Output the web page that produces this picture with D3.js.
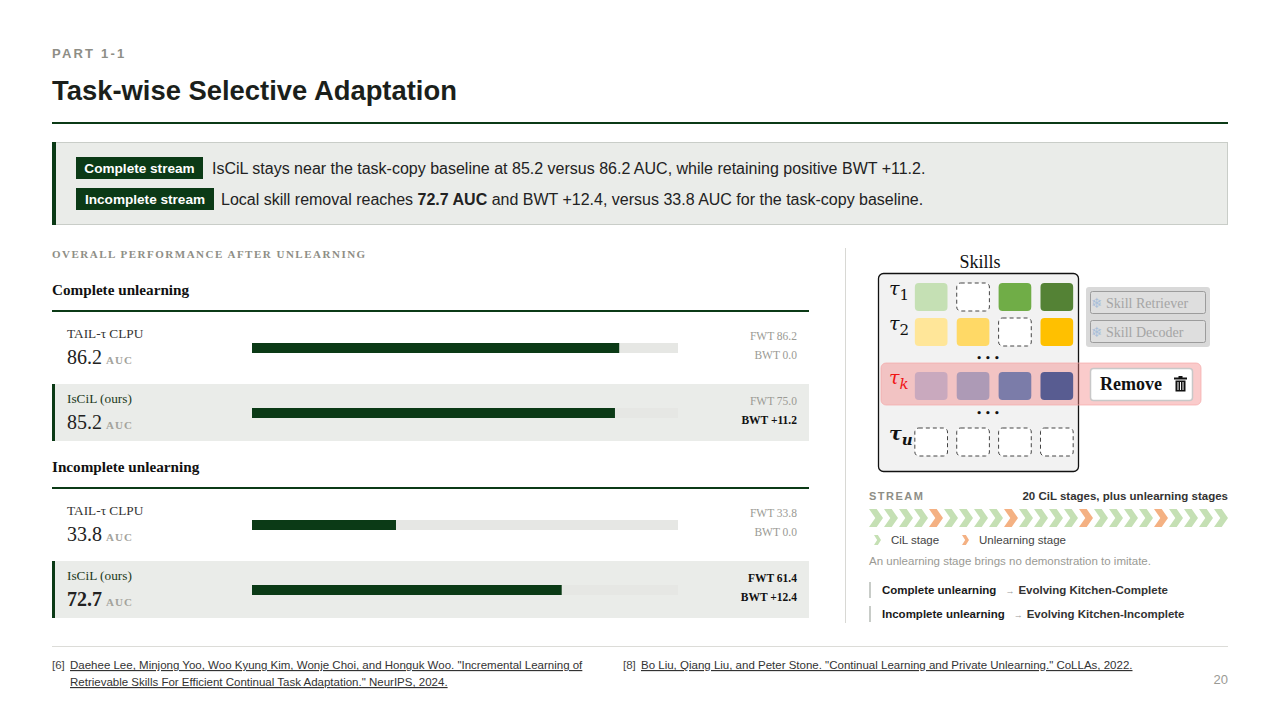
<!DOCTYPE html>
<html>
<head>
<meta charset="utf-8">
<script src="https://cdn.jsdelivr.net/npm/d3@7"></script>
<style>
  html, body { margin: 0; padding: 0; background: #fff; }
  svg { display: block; }
  .sans { font-family: "Liberation Sans", Arial, sans-serif; }
  .serif { font-family: "Liberation Serif", "Times New Roman", serif; }
</style>
</head>
<body>
<svg id="slide" width="1280" height="720"></svg>
<script>
// ---- data ----
var groups = ["Complete unlearning", "Incomplete unlearning"]
var methods = ["TAIL-τ CLPU", "IsCiL (ours)"]
var aucValues = [[86.2, 85.2], [33.8, 72.7]]
var fwtValues = [[86.2, 75.0], [33.8, 61.4]]
var bwtValues = [[0.0, 11.2], [0.0, 12.4]]

// stream: 0 = CiL stage, 1 = unlearning stage
var streamStages = [0,0,0,0,1, 0,0,0,0,1, 0,0,0,0,1, 0,0,0,0,1, 0,0,0,0]

var skillRows = ["1", "2", "k", "u"]
var skillColors = [
    ["#c5e0b4", null, "#70ad47", "#548235"],
    ["#ffe699", "#ffd966", null, "#ffc000"],
    ["#c9a9be", "#ad9ab6", "#7b7ca9", "#585c91"],
    [null, null, null, null]
]

var refs = [
    ["[6]", "Daehee Lee, Minjong Yoo, Woo Kyung Kim, Wonje Choi, and Honguk Woo. \"Incremental Learning of",
        "Retrievable Skills For Efficient Continual Task Adaptation.\" NeurIPS, 2024."],
    ["[8]", "Bo Liu, Qiang Liu, and Peter Stone. \"Continual Learning and Private Unlearning.\" CoLLAs, 2022."]
]

var GREEN = "#0b3a16"
var svg = d3.select("#slide")

// ---- header ----
svg.append("text").attr("class", "sans").attr("x", 52).attr("y", 58)
    .attr("font-size", 13).attr("font-weight", "bold").attr("letter-spacing", 2.2)
    .attr("fill", "#8e8e86").text("PART 1-1")
svg.append("text").attr("class", "sans").attr("x", 52).attr("y", 100)
    .attr("font-size", 27.4).attr("font-weight", "bold").attr("fill", "#1b1f1b")
    .text("Task-wise Selective Adaptation")
svg.append("rect").attr("x", 52).attr("y", 122).attr("width", 1176).attr("height", 2).attr("fill", GREEN)

// ---- callout ----
svg.append("rect").attr("x", 52.5).attr("y", 142.5).attr("width", 1175).attr("height", 82)
    .attr("fill", "#eaece9").attr("stroke", "#c9cdc8")
svg.append("rect").attr("x", 52).attr("y", 142).attr("width", 4).attr("height", 83).attr("fill", GREEN)

var callout = [
    { tag: "Complete stream", y: 157, w: 127, tx: 212, parts: [["IsCiL stays near the task-copy baseline at 85.2 versus 86.2 AUC, while retaining positive BWT +11.2.", false]] },
    { tag: "Incomplete stream", y: 188, w: 138, tx: 221, parts: [["Local skill removal reaches ", false], ["72.7 AUC", true], [" and BWT +12.4, versus 33.8 AUC for the task-copy baseline.", false]] }
]
callout.forEach(function (c) {
    svg.append("rect").attr("x", 76).attr("y", c.y).attr("width", c.w).attr("height", 22).attr("fill", GREEN)
    svg.append("text").attr("class", "sans").attr("x", 76 + c.w / 2).attr("y", c.y + 15.5)
        .attr("text-anchor", "middle").attr("font-size", 13.6).attr("font-weight", "bold")
        .attr("fill", "#fff").text(c.tag)
    var t = svg.append("text").attr("class", "sans").attr("x", c.tx).attr("y", c.y + 16.5)
        .attr("font-size", 16).attr("fill", "#222")
    c.parts.forEach(function (p) {
        t.append("tspan").attr("font-weight", p[1] ? "bold" : "normal").text(p[0])
    })
})

// ---- left panel ----
svg.append("text").attr("class", "serif").attr("x", 52).attr("y", 258)
    .attr("font-size", 11).attr("font-weight", "bold").attr("letter-spacing", 1.5)
    .attr("fill", "#8e8e86").text("OVERALL PERFORMANCE AFTER UNLEARNING")

var x = d3.scaleLinear().domain([0, 100]).range([252, 678])
var fmtBwt = function (v) { return (v > 0 ? "+" : "") + v.toFixed(1) }

groups.forEach(function (g, gi) {
    var top = 311 + gi * 177
    svg.append("text").attr("class", "serif").attr("x", 52).attr("y", top - 16)
        .attr("font-size", 15.2).attr("font-weight", "bold").attr("fill", "#111").text(g)
    svg.append("rect").attr("x", 52).attr("y", top - 1).attr("width", 757).attr("height", 2).attr("fill", GREEN)

    methods.forEach(function (m, mi) {
        var ry = top + 8 + mi * 65
        var ours = mi === 1
        var auc = aucValues[gi][mi], fwt = fwtValues[gi][mi], bwt = bwtValues[gi][mi]
        var boldAuc = ours && auc === d3.max(aucValues[gi])
        var boldFwt = ours && fwt === d3.max(fwtValues[gi])
        var boldBwt = ours && bwt === d3.max(bwtValues[gi])
        if (ours) {
            svg.append("rect").attr("x", 52).attr("y", ry).attr("width", 757).attr("height", 57).attr("fill", "#eaece9")
            svg.append("rect").attr("x", 52).attr("y", ry).attr("width", 3).attr("height", 57).attr("fill", GREEN)
        }
        svg.append("text").attr("class", "serif").attr("x", 67).attr("y", ry + 19)
            .attr("font-size", 13.3).attr("fill", ours ? "#1d3a22" : "#333").text(m)
        var vt = svg.append("text").attr("class", "serif").attr("x", 67).attr("y", ry + 45)
            .attr("fill", "#222")
        vt.append("tspan").attr("font-size", 20).attr("font-weight", boldAuc ? "bold" : "normal").text(auc.toFixed(1))
        vt.append("tspan").attr("dx", 4).attr("font-size", 11).attr("font-weight", "bold")
            .attr("letter-spacing", 1).attr("fill", "#a3a39c").text("AUC")

        svg.append("rect").attr("x", x(0)).attr("y", ry + 24).attr("width", x(100) - x(0)).attr("height", 10).attr("fill", "#e6e7e4")
        svg.append("rect").attr("x", x(0)).attr("y", ry + 24).attr("width", x(auc) - x(0)).attr("height", 10).attr("fill", GREEN)

        svg.append("text").attr("class", "serif").attr("x", 797).attr("y", ry + 21)
            .attr("text-anchor", "end").attr("font-size", 11.5)
            .attr("font-weight", boldFwt ? "bold" : "normal").attr("fill", boldFwt ? "#111" : "#9a9a94")
            .text("FWT " + fwt.toFixed(1))
        svg.append("text").attr("class", "serif").attr("x", 797).attr("y", ry + 40)
            .attr("text-anchor", "end").attr("font-size", 11.5)
            .attr("font-weight", boldBwt ? "bold" : "normal").attr("fill", boldBwt ? "#111" : "#9a9a94")
            .text("BWT " + fmtBwt(bwt))
    })
})

// divider
svg.append("rect").attr("x", 845).attr("y", 248).attr("width", 1).attr("height", 375).attr("fill", "#d8d8d4")

// ---- skills diagram ----
var dg = svg.append("g")
dg.append("text").attr("class", "serif").attr("x", 980).attr("y", 268).attr("text-anchor", "middle")
    .attr("font-size", 18).attr("fill", "#111").text("Skills")
dg.append("rect").attr("x", 878.5).attr("y", 273.5).attr("width", 200).attr("height", 198).attr("rx", 5)
    .attr("fill", "#f2f2f2").attr("stroke", "#111").attr("stroke-width", 1.3)

// side panel (retriever / decoder)
dg.append("rect").attr("x", 1086).attr("y", 287).attr("width", 124).attr("height", 60).attr("rx", 3).attr("fill", "#d9d9d9")
;["Skill Retriever", "Skill Decoder"].forEach(function (s, i) {
    var by = 291 + i * 29
    dg.append("rect").attr("x", 1090.5).attr("y", by + 0.5).attr("width", 115).attr("height", 22).attr("rx", 2)
        .attr("fill", "#dedede").attr("stroke", "#9c9c9c")
    dg.append("text").attr("x", 1091).attr("y", by + 17).attr("font-family", "DejaVu Sans")
        .attr("font-size", 14).attr("fill", "#a9bfd9").text("❄")
    dg.append("text").attr("class", "serif").attr("x", 1106).attr("y", by + 16.5)
        .attr("font-size", 14).attr("fill", "#a5a5a5").text(s)
})

// remove band over k row (drawn under the cells)
dg.append("rect").attr("x", 881).attr("y", 363).attr("width", 320).attr("height", 42).attr("rx", 5)
    .attr("fill", "rgba(242,130,130,0.42)").attr("stroke", "rgba(245,170,170,0.7)")

var colX = d3.scaleBand().domain(d3.range(4)).range([914, 1074]).paddingInner(0.22).paddingOuter(0.02)
var rowY = d3.scaleOrdinal().domain(skillRows).range([283, 318, 372, 428])
var cellH = 28

skillRows.forEach(function (r, ri) {
    var y0 = rowY(r)
    var lab = dg.append("text").attr("x", 889).attr("y", y0 + 12)
        .attr("font-family", "DejaVu Serif").attr("font-style", "italic").attr("font-size", 19)
        .attr("font-weight", r === "u" ? "bold" : "normal")
        .attr("fill", r === "k" ? "#f01414" : "#111")
    lab.append("tspan").text("τ")
    lab.append("tspan").attr("dy", 5).attr("font-size", 15)
        .attr("font-style", (r === "1" || r === "2") ? "normal" : "italic").text(r)
    skillColors[ri].forEach(function (c, ci) {
        var cell = dg.append("rect").attr("x", colX(ci)).attr("y", y0).attr("width", colX.bandwidth()).attr("height", cellH).attr("rx", 4)
        if (c) cell.attr("fill", c)
        else cell.attr("fill", "#fff").attr("stroke", "#444").attr("stroke-dasharray", "4,3").attr("stroke-width", 1)
    })
})
;[361, 416].forEach(function (yy) {
    dg.append("text").attr("x", 988).attr("y", yy).attr("text-anchor", "middle")
        .attr("font-family", "DejaVu Sans").attr("font-weight", "bold").attr("font-size", 9).attr("fill", "#111").text("• • •")
})

dg.append("rect").attr("x", 1090.5).attr("y", 368.5).attr("width", 102).attr("height", 32).attr("rx", 3)
    .attr("fill", "#fff").attr("stroke", "#c8c8c8").attr("stroke-width", 1.5)
dg.append("text").attr("class", "serif").attr("x", 1100).attr("y", 390)
    .attr("font-size", 18).attr("font-weight", "bold").attr("fill", "#111").text("Remove")
// trash icon
var tr = dg.append("g").attr("transform", "translate(1174,376)").attr("fill", "#111")
tr.append("rect").attr("x", 0).attr("y", 1.5).attr("width", 13).attr("height", 2)
tr.append("rect").attr("x", 4.5).attr("y", 0).attr("width", 4).attr("height", 2)
tr.append("rect").attr("x", 1.5).attr("y", 4.5).attr("width", 10).attr("height", 11)
;[3.5, 6, 8.5].forEach(function (lx) {
    tr.append("rect").attr("x", lx).attr("y", 6).attr("width", 1).attr("height", 8).attr("fill", "#fff")
})

// ---- stream ----
svg.append("text").attr("class", "sans").attr("x", 869).attr("y", 500)
    .attr("font-size", 11).attr("font-weight", "bold").attr("letter-spacing", 1.5)
    .attr("fill", "#8e8e86").text("STREAM")
svg.append("text").attr("class", "sans").attr("x", 1228).attr("y", 500).attr("text-anchor", "end")
    .attr("font-size", 11.5).attr("font-weight", "bold").attr("fill", "#333")
    .text("20 CiL stages, plus unlearning stages")

var stageColor = ["#c5e0b4", "#f4b183"]
var sx = d3.scaleBand().domain(d3.range(streamStages.length)).range([869, 1229])
function chevron(w, h) {
    var n = w * 0.45
    return "M0,0 L" + (w - n) + ",0 L" + w + "," + (h / 2) + " L" + (w - n) + "," + h + " L0," + h + " L" + n + "," + (h / 2) + "Z"
}
svg.append("g").selectAll("path").data(streamStages).join("path")
    .attr("transform", function (d, i) { return "translate(" + sx(i) + ",509)" })
    .attr("d", chevron(sx.bandwidth() - 1, 18))
    .attr("fill", function (d) { return stageColor[d] })

var legend = [["CiL stage", 0, 874], ["Unlearning stage", 1, 962]]
legend.forEach(function (l) {
    svg.append("path").attr("transform", "translate(" + l[2] + ",535)").attr("d", chevron(7, 10)).attr("fill", stageColor[l[1]])
    svg.append("text").attr("class", "sans").attr("x", l[2] + 17).attr("y", 544)
        .attr("font-size", 11.5).attr("fill", "#444").text(l[0])
})
svg.append("text").attr("class", "sans").attr("x", 869).attr("y", 565)
    .attr("font-size", 11.5).attr("fill", "#9a9a94").text("An unlearning stage brings no demonstration to imitate.")

var mapping = [["Complete unlearning", "Evolving Kitchen-Complete"], ["Incomplete unlearning", "Evolving Kitchen-Incomplete"]]
mapping.forEach(function (mp, i) {
    var y0 = 594 + i * 24
    svg.append("rect").attr("x", 869).attr("y", y0 - 12).attr("width", 2).attr("height", 16).attr("fill", "#c8ccc8")
    var t = svg.append("text").attr("class", "sans").attr("x", 882).attr("y", y0)
        .attr("font-size", 11.5).attr("font-weight", "bold").attr("fill", "#1a1a1a")
    t.append("tspan").text(mp[0])
    t.append("tspan").attr("dx", 9).attr("font-weight", "normal").attr("font-size", 9).attr("fill", "#999").text("→")
    t.append("tspan").attr("dx", 4).attr("fill", "#333").text(mp[1])
})

// ---- footer ----
svg.append("rect").attr("x", 52).attr("y", 646).attr("width", 1176).attr("height", 1).attr("fill", "#dcdcd8")
var refX = [52, 623]
refs.forEach(function (r, i) {
    svg.append("text").attr("class", "sans").attr("x", refX[i]).attr("y", 669)
        .attr("font-size", 11.5).attr("fill", "#444").text(r[0])
    r.slice(1).forEach(function (line, li) {
        svg.append("text").attr("class", "sans").attr("x", refX[i] + 18).attr("y", 669 + li * 17)
            .attr("font-size", 11.5).attr("fill", "#333").attr("text-decoration", "underline").text(line)
    })
})
svg.append("text").attr("class", "sans").attr("x", 1228).attr("y", 684).attr("text-anchor", "end")
    .attr("font-size", 13).attr("fill", "#9a9a94").text("20")
</script>
</body>
</html>
